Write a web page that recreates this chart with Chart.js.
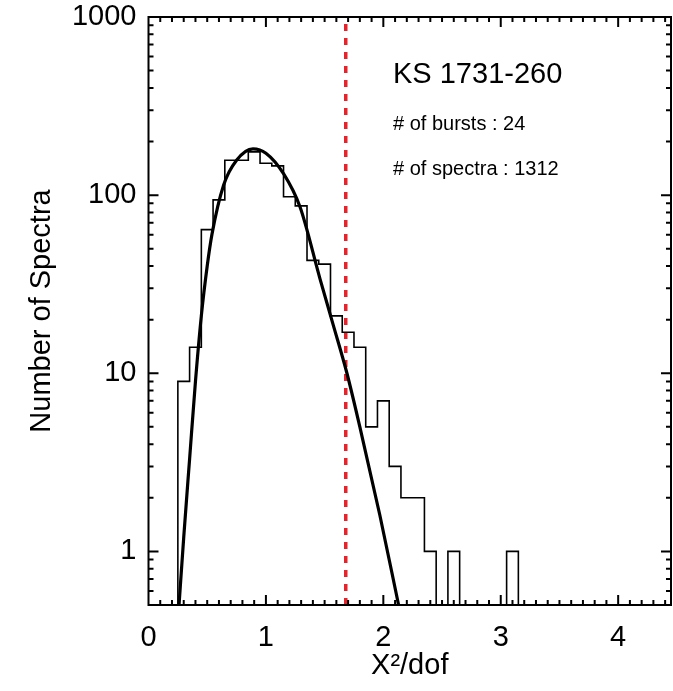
<!DOCTYPE html>
<html>
<head>
<meta charset="utf-8">
<script src="https://cdn.jsdelivr.net/npm/chart.js@4.4.0/dist/chart.umd.min.js"></script>
<style>
  html, body { margin: 0; padding: 0; background: #fff; }
  #wrap { width: 673px; height: 691px; }
</style>
</head>
<body>
<div id="wrap"><canvas id="ksChart" width="673" height="691"></canvas></div>
<script>
// histogram of reduced chi-square (bin centres, 0.1 wide bins)
const binCenters = [0.3, 0.4, 0.5, 0.6, 0.7, 0.8, 0.9, 1.0, 1.1, 1.2, 1.3, 1.4, 1.5, 1.6, 1.7,
                    1.8, 1.9, 2.0, 2.1, 2.2, 2.3, 2.4, 2.5, 2.6, 2.7, 2.8, 2.9, 3.0, 3.1];
const binCounts  = [9, 14, 64, 94, 157, 157, 175, 151, 146, 98, 87, 43, 41, 21, 17,
                    14, 5, 7, 3, 2, 2, 1, 0, 1, 0, 0, 0, 0, 1];
const binWidth = 0.1;

// fitted distribution
const fitX = [0.26, 0.30, 0.35, 0.40, 0.45, 0.50, 0.54, 0.64, 0.75, 0.89, 1.00, 1.15, 1.29, 1.46, 1.57, 1.69, 1.80, 1.97, 2.13];
const fitY = [0.5, 1.2, 3.3, 9, 21, 40, 60, 114, 157, 182, 172, 132, 86, 34, 19, 10, 5, 1.6, 0.5];

// chi2 cut
const cutX = 1.68;

const xTicks = [0, 1, 2, 3, 4];
const yTicks = [1, 10, 100, 1000];

const sourceName = "KS 1731-260";
const nBursts = 24;
const nSpectra = 1312;

const FONT = '"Liberation Sans", Arial, Helvetica, sans-serif';

// step outline of the histogram: left edge of each bin carries its count
const floorY = 0.1;
const histPoints = [{ x: binCenters[0] - binWidth / 2, y: floorY }];
binCenters.forEach((c, i) => {
  histPoints.push({ x: c - binWidth / 2, y: binCounts[i] > 0 ? binCounts[i] : floorY });
});
histPoints.push({ x: binCenters[binCenters.length - 1] + binWidth / 2, y: floorY });

const fitPoints = fitX.map((x, i) => ({ x: x, y: fitY[i] }));

// IDL style frame with inward ticks on all four sides + labels
const idlFrame = {
  id: 'idlFrame',
  afterDatasetsDraw(chart) {
    const { ctx, chartArea: a, scales } = chart;
    const x = scales.x, y = scales.y;
    ctx.save();
    ctx.strokeStyle = '#000';
    ctx.lineWidth = 2;
    ctx.strokeRect(a.left, a.top, a.right - a.left, a.bottom - a.top);

    ctx.beginPath();
    for (let i = 1; i / 10 < x.max; i++) {
      const px = x.getPixelForValue(i / 10);
      const len = i % 10 === 0 ? 10 : 5;
      ctx.moveTo(px, a.bottom); ctx.lineTo(px, a.bottom - len);
      ctx.moveTo(px, a.top); ctx.lineTo(px, a.top + len);
    }
    for (let d = -1; d <= 3; d++) {
      for (let m = 1; m <= 9; m++) {
        const v = m * Math.pow(10, d);
        if (v <= y.min || v >= y.max) continue;
        const py = y.getPixelForValue(v);
        const len = m === 1 ? 10 : 5;
        ctx.moveTo(a.left, py); ctx.lineTo(a.left + len, py);
        ctx.moveTo(a.right, py); ctx.lineTo(a.right - len, py);
      }
    }
    ctx.stroke();

    ctx.fillStyle = '#000';
    ctx.textBaseline = 'alphabetic';
    ctx.textAlign = 'left';
    ctx.font = '29px ' + FONT;
    ctx.fillText(sourceName, 393, 83);
    ctx.font = '20px ' + FONT;
    ctx.fillText('# of bursts : ' + nBursts, 393, 130);
    ctx.fillText('# of spectra : ' + nSpectra, 393, 175);
    ctx.restore();
  }
};

new Chart(document.getElementById('ksChart'), {
  type: 'line',
  data: {
    datasets: [
      {
        label: 'histogram',
        data: histPoints,
        stepped: 'before',
        borderColor: '#000',
        borderWidth: 1.6,
        pointRadius: 0,
        fill: false
      },
      {
        label: 'fit',
        data: fitPoints,
        cubicInterpolationMode: 'monotone',
        borderColor: '#000',
        borderWidth: 3.2,
        pointRadius: 0,
        fill: false
      },
      {
        label: 'cut',
        data: [{ x: cutX, y: 0.5 }, { x: cutX, y: 1000 }],
        borderColor: '#e8222a',
        borderWidth: 3.5,
        borderDash: [7, 7],
        pointRadius: 0,
        fill: false
      }
    ]
  },
  options: {
    responsive: false,
    animation: false,
    devicePixelRatio: 1,
    layout: { padding: { top: 17, right: 2, left: 0, bottom: 0 } },
    plugins: { legend: { display: false }, tooltip: { enabled: false } },
    scales: {
      x: {
        type: 'linear',
        min: 0,
        max: 4.45,
        afterBuildTicks: (s) => { s.ticks = xTicks.map(v => ({ value: v })); },
        afterFit: (s) => { s.height = 86; s.paddingLeft = 0; s.paddingRight = 0; },
        grid: { display: false },
        border: { display: false },
        ticks: { color: '#000', font: { family: FONT, size: 29 }, padding: 8, maxRotation: 0, autoSkip: false },
        title: { display: true, text: 'X²/dof', color: '#000', font: { family: FONT, size: 29 }, padding: { top: 0, bottom: 8 } }
      },
      y: {
        type: 'logarithmic',
        min: 0.5,
        max: 1000,
        afterBuildTicks: (s) => { s.ticks = yTicks.map(v => ({ value: v })); },
        afterFit: (s) => { s.width = 148.5; s.paddingTop = 0; s.paddingBottom = 0; },
        grid: { display: false },
        border: { display: false },
        ticks: { color: '#000', font: { family: FONT, size: 29 }, padding: 4, callback: (v) => String(v) },
        title: { display: true, text: 'Number of Spectra', color: '#000', font: { family: FONT, size: 29 }, padding: { top: 25, bottom: 0 } }
      }
    }
  },
  plugins: [idlFrame]
});
</script>
</body>
</html>
